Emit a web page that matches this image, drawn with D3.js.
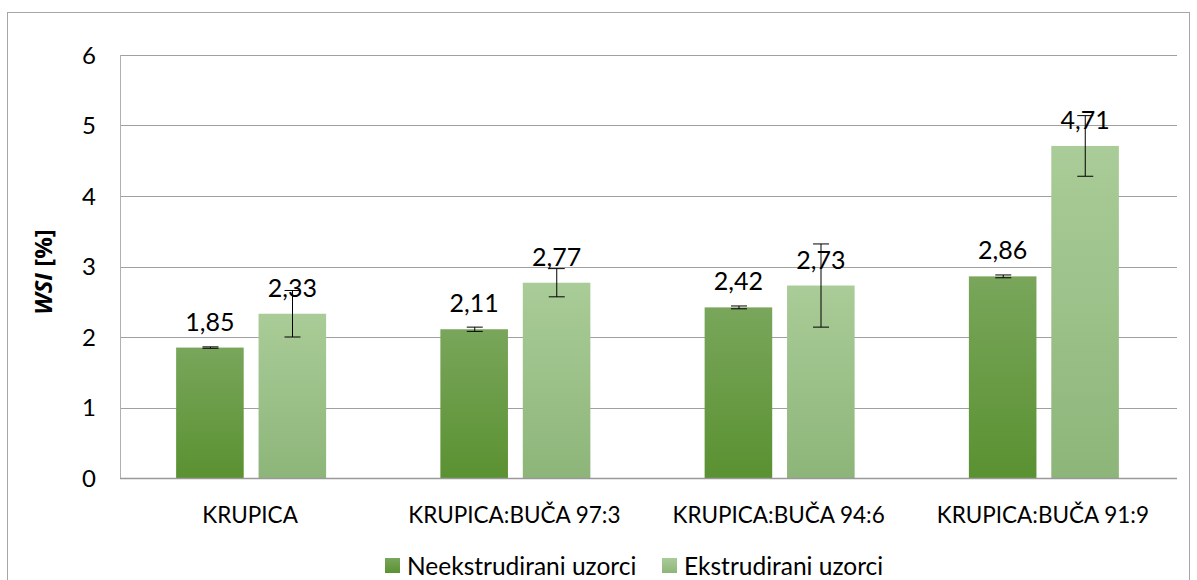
<!DOCTYPE html>
<html>
<head>
<meta charset="utf-8">
<script src="https://cdn.jsdelivr.net/npm/d3@7"></script>
<style>
  body { margin: 0; background: #fff; }
  svg { font-family: Lato, "Open Sans", sans-serif; }
</style>
</head>
<body>
<div id="chart"></div>
<script>
// data
var categories = ["KRUPICA", "KRUPICA:BUČA 97:3", "KRUPICA:BUČA 94:6", "KRUPICA:BUČA 91:9"];
var seriesNames = ["Neekstrudirani uzorci", "Ekstrudirani uzorci"];
var neekValues = [1.85, 2.11, 2.42, 2.86];
var neekErrors = [0.01, 0.03, 0.02, 0.02];
var ekstrValues = [2.33, 2.77, 2.73, 4.71];
var ekstrErrors = [0.33, 0.2, 0.59, 0.43];
var yTicks = [0, 1, 2, 3, 4, 5, 6];

var width = 1197, height = 580;
var margin = {left: 120, right: 20, top: 55, bottom: 102};
var plotW = width - margin.left - margin.right;
var plotH = height - margin.top - margin.bottom;

var svg = d3.select("#chart").append("svg")
    .attr("width", width)
    .attr("height", height);

// outer chart border
svg.append("rect")
    .attr("x", 7.5).attr("y", 12.5)
    .attr("width", 1182).attr("height", 580)
    .attr("fill", "none")
    .attr("stroke", "#a6a6a6");

var defs = svg.append("defs");
var grads = [["g0", "#79a65b", "#5a9131"], ["g1", "#aacc98", "#8db579"]];
grads.forEach(function (g) {
    var lg = defs.append("linearGradient").attr("id", g[0])
        .attr("x1", 0).attr("y1", 0).attr("x2", 0).attr("y2", 1);
    lg.append("stop").attr("offset", "0%").attr("stop-color", g[1]);
    lg.append("stop").attr("offset", "100%").attr("stop-color", g[2]);
});

var g = svg.append("g").attr("transform", "translate(" + margin.left + "," + margin.top + ")");

var y = d3.scaleLinear().domain([0, 6]).range([plotH, 0]);
var x0 = d3.scaleBand().domain(categories).range([0, plotW]);
var x1 = d3.scaleBand().domain([0, 1]).range([x0.bandwidth() / 2 - 76, x0.bandwidth() / 2 + 74]).paddingInner(0.18);

// gridlines
g.selectAll("line.grid")
    .data(yTicks.slice(1))
    .enter().append("line")
    .attr("class", "grid")
    .attr("x1", 0).attr("x2", plotW)
    .attr("y1", function (d) { return Math.round(y(d)) + 0.5; })
    .attr("y2", function (d) { return Math.round(y(d)) + 0.5; })
    .attr("stroke", "#a0a0a0");

// left border of plot area
g.append("line")
    .attr("x1", 0.5).attr("x2", 0.5)
    .attr("y1", 0).attr("y2", plotH)
    .attr("stroke", "#b0b0b0");

// y tick labels
g.selectAll("text.ytick")
    .data(yTicks)
    .enter().append("text")
    .attr("class", "ytick")
    .attr("x", -31)
    .attr("y", function (d) { return y(d); })
    .attr("dy", "0.36em")
    .attr("text-anchor", "middle")
    .style("font-size", "24px")
    .attr("fill", "#000")
    .text(function (d) { return d; });

// y axis title
var yt = svg.append("text")
    .attr("transform", "translate(52," + 272 + ") rotate(-90)")
    .attr("text-anchor", "middle")
    .style("font-family", "'Open Sans', sans-serif")
    .style("font-size", "24px")
    .style("font-weight", "bold");
yt.append("tspan").style("font-style", "italic").text("WSI");
yt.append("tspan").text(" [%]");

var rows = categories.map(function (c, i) {
    return [
        {cat: c, s: 0, v: neekValues[i], e: neekErrors[i]},
        {cat: c, s: 1, v: ekstrValues[i], e: ekstrErrors[i]}
    ];
});

var groups = g.selectAll("g.cat")
    .data(rows)
    .enter().append("g")
    .attr("class", "cat")
    .attr("transform", function (d) { return "translate(" + x0(d[0].cat) + ",0)"; });

var bars = groups.selectAll("g.bar")
    .data(function (d) { return d; })
    .enter().append("g").attr("class", "bar");

bars.append("rect")
    .attr("x", function (d) { return x1(d.s); })
    .attr("width", x1.bandwidth())
    .attr("y", function (d) { return y(d.v); })
    .attr("height", function (d) { return plotH - y(d.v); })
    .attr("fill", function (d) { return "url(#g" + d.s + ")"; });

// value labels
bars.append("text")
    .attr("x", function (d) { return x1(d.s) + x1.bandwidth() / 2; })
    .attr("y", function (d) { return y(d.v) - 17; })
    .attr("text-anchor", "middle")
    .style("font-size", "25px")
    .attr("fill", "#000")
    .text(function (d) { return d3.format(".2f")(d.v).replace(".", ","); });

// error bars
bars.each(function (d) {
    var cx = Math.round(x1(d.s) + x1.bandwidth() / 2) + 0.5;
    var sel = d3.select(this);
    sel.append("line")
        .attr("x1", cx).attr("x2", cx)
        .attr("y1", y(d.v + d.e)).attr("y2", y(d.v - d.e))
        .attr("stroke", "#000").attr("stroke-width", 1);
    [d.v + d.e, d.v - d.e].forEach(function (v) {
        sel.append("line")
            .attr("x1", cx - 8).attr("x2", cx + 8)
            .attr("y1", y(v)).attr("y2", y(v))
            .attr("stroke", "#000").attr("stroke-width", 1);
    });
});

// x axis line
g.append("line")
    .attr("x1", 0).attr("x2", plotW)
    .attr("y1", plotH + 0.5).attr("y2", plotH + 0.5)
    .attr("stroke", "#999").attr("stroke-width", 1.5);

// category labels
g.selectAll("text.cat")
    .data(categories)
    .enter().append("text")
    .attr("class", "cat")
    .attr("x", function (d) { return x0(d) + x0.bandwidth() / 2 - 2; })
    .attr("y", plotH + 45)
    .attr("text-anchor", "middle")
    .style("font-size", "22.5px")
    .attr("fill", "#000")
    .text(function (d) { return d; });

// legend
var legend = svg.append("g").attr("transform", "translate(385,558)");
var lx = [0, 277];
seriesNames.forEach(function (name, i) {
    var item = legend.append("g").attr("transform", "translate(" + lx[i] + ",0)");
    item.append("rect")
        .attr("width", 15).attr("height", 15)
        .attr("fill", "url(#g" + i + ")");
    item.append("text")
        .attr("x", 22).attr("y", 8)
        .attr("dy", "0.36em")
        .style("font-size", "24.5px")
        .attr("fill", "#000")
        .text(name);
});
</script>
</body>
</html>
